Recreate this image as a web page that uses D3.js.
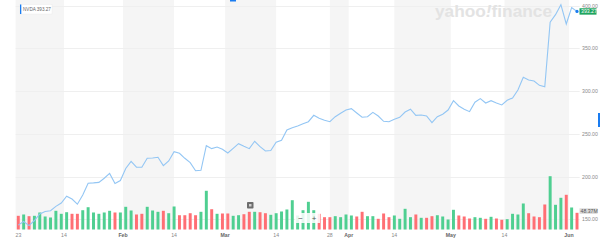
<!DOCTYPE html>
<html>
<head>
<meta charset="utf-8">
<script src="https://cdn.jsdelivr.net/npm/d3@7"></script>
<style>
  body { margin: 0; background: #fff; }
  svg { display: block; font-family: "Liberation Sans", Arial, sans-serif; }
</style>
</head>
<body>
<script>
var width = 600;
var height = 247;

// trading days, Jan 3 - Jun 2 2023
var dates = [
  "2023-01-03","2023-01-04","2023-01-05","2023-01-06","2023-01-09","2023-01-10","2023-01-11","2023-01-12","2023-01-13",
  "2023-01-17","2023-01-18","2023-01-19","2023-01-20","2023-01-23","2023-01-24","2023-01-25","2023-01-26","2023-01-27",
  "2023-01-30","2023-01-31",
  "2023-02-01","2023-02-02","2023-02-03","2023-02-06","2023-02-07","2023-02-08","2023-02-09","2023-02-10","2023-02-13",
  "2023-02-14","2023-02-15","2023-02-16","2023-02-17","2023-02-21","2023-02-22","2023-02-23","2023-02-24","2023-02-27",
  "2023-02-28",
  "2023-03-01","2023-03-02","2023-03-03","2023-03-06","2023-03-07","2023-03-08","2023-03-09","2023-03-10","2023-03-13",
  "2023-03-14","2023-03-15","2023-03-16","2023-03-17","2023-03-20","2023-03-21","2023-03-22","2023-03-23","2023-03-24",
  "2023-03-27","2023-03-28","2023-03-29","2023-03-30","2023-03-31",
  "2023-04-03","2023-04-04","2023-04-05","2023-04-06","2023-04-10","2023-04-11","2023-04-12","2023-04-13","2023-04-14",
  "2023-04-17","2023-04-18","2023-04-19","2023-04-20","2023-04-21","2023-04-24","2023-04-25","2023-04-26","2023-04-27",
  "2023-04-28",
  "2023-05-01","2023-05-02","2023-05-03","2023-05-04","2023-05-05","2023-05-08","2023-05-09","2023-05-10","2023-05-11",
  "2023-05-12","2023-05-15","2023-05-16","2023-05-17","2023-05-18","2023-05-19","2023-05-22","2023-05-23","2023-05-24",
  "2023-05-25","2023-05-26","2023-05-30","2023-05-31",
  "2023-06-01","2023-06-02"
];

var close = [
  143.15,147.49,142.65,148.59,156.28,159.09,160.01,165.11,168.99,
  177.02,173.77,167.65,178.39,192.21,192.6,193.22,198.02,203.65,
  191.94,195.37,
  209.43,217.86,211.0,210.9,221.4,221.8,222.6,212.8,218.3,
  229.1,227.3,221.4,216.3,206.9,207.4,236.2,232.7,234.6,
  231.9,
  227.6,233.1,238.5,235.5,232.7,241.3,235.0,230.0,230.5,
  240.1,242.5,254.5,257.2,259.2,261.9,264.2,271.7,268.2,
  265.9,264.2,270.1,274.1,277.9,
  279.5,274.4,269.4,270.1,275.2,270.9,264.7,264.2,267.1,
  269.4,275.6,278.8,271.7,272.0,270.9,263.1,270.1,272.9,
  277.9,
  288.8,282.6,278.8,276.0,287.0,291.2,286.1,288.8,286.1,
  283.8,289.3,292.0,301.3,316.2,313.1,311.9,306.8,305.2,
  380.6,389.5,401.2,378.6,
  397.7,393.27
];

// volume in millions
var volume = [
  39.7,43.5,38.6,39.7,49.3,37.7,34.8,54.2,45.5,
  50.1,45.5,45.5,55.9,64.6,49.3,45.5,49.3,54.2,
  49.3,49.3,
  65.8,55.1,43.5,45.5,65.8,55.1,51.3,54.2,47.2,
  66.7,41.4,41.4,47.2,41.4,51.3,112.2,58.8,45.5,
  46.4,
  46.4,39.7,41.4,44.3,51.3,51.3,50.1,47.2,42.6,
  47.2,52.2,58.0,84.9,40.6,55.9,80.3,55.9,45.5,
  35.7,35.7,38.6,35.7,43.5,
  40.6,37.7,51.3,38.6,38.6,31.0,46.4,35.7,40.6,
  31.0,60.0,35.7,43.5,33.9,33.9,38.6,41.4,37.7,
  29.0,
  57.1,40.6,37.7,31.9,35.7,33.9,31.0,36.8,31.9,
  28.1,29.9,45.5,43.5,75.4,47.2,37.7,35.7,72.5,
  154.5,71.6,91.9,100.6,
  63.8,48.37
];

var priceTicks = [150, 200, 250, 300, 350, 400];
// calendar dates of the x labels
var tickDates = ["2023-01-03","2023-01-14","2023-02-01","2023-02-14","2023-03-01","2023-03-14",
                 "2023-03-28","2023-04-03","2023-04-14","2023-05-01","2023-05-14","2023-06-01"];
var tickLabels = ["23","14","Feb","14","Mar","14","28","Apr","14","May","14","Jun"];
var monthLabels = ["Feb","Mar","Apr","May","Jun"];

var symbol = "NVDA";
var lastPrice = "393.27";
var lastVolume = "48.37M";

var data = dates.map(function(d, i) {
  return {date: d, close: close[i], volume: volume[i], up: i === 0 ? false : close[i] >= close[i - 1]};
});

var plotLeft = 15.6, plotRight = 579.7, plotTop = 0, plotBottom = 229.5;

var svg = d3.select("body").append("svg")
  .attr("width", width)
  .attr("height", height);

var x = d3.scaleBand()
  .domain(dates)
  .range([plotLeft, plotRight])
  .paddingInner(0.45)
  .paddingOuter(0.225);

var step = x.step();
function cx(d) { return x(d) + x.bandwidth() / 2; }
function edge(d) { return cx(d) - step / 2; }

// month starts and non-trading days sit on the gap before the next session,
// mid-month trading days sit on the session itself
function tickX(t, i) {
  var next = dates.find(function(d) { return d >= t; });
  var isDay = monthLabels.indexOf(tickLabels[i]) < 0 && i > 0;
  return (isDay && next === t) ? cx(next) : edge(next);
}

var y = d3.scaleLinear().domain([150, 400]).range([219.3, 5.7]);
var vy = d3.scaleLinear().domain([0, 160]).range([plotBottom, plotBottom - 55.2]);

// alternating background bands
var edges = tickDates.map(tickX).concat([plotRight]);
var bands = d3.range(tickDates.length).map(function(i) { return {x0: edges[i], x1: edges[i + 1], gray: i % 2 === 0}; });

svg.append("g")
  .selectAll("rect")
  .data(bands.filter(function(b) { return b.gray; }))
  .join("rect")
  .attr("x", function(b) { return b.x0; })
  .attr("y", plotTop)
  .attr("width", function(b) { return b.x1 - b.x0; })
  .attr("height", plotBottom - plotTop)
  .attr("fill", "#f5f5f5");

// horizontal grid
svg.append("g")
  .selectAll("line")
  .data(priceTicks)
  .join("line")
  .attr("x1", plotLeft)
  .attr("x2", plotRight)
  .attr("y1", function(d) { return Math.round(y(d)) + 0.5; })
  .attr("y2", function(d) { return Math.round(y(d)) + 0.5; })
  .attr("stroke", "#efefef")
  .attr("stroke-width", 1);

// watermark
var wm = svg.append("text")
  .attr("x", 435)
  .attr("y", 17)
  .attr("font-size", 17)
  .attr("font-weight", "bold")
  .attr("fill", "#e3e3e3")
  .attr("textLength", 117)
  .attr("lengthAdjust", "spacingAndGlyphs");
wm.append("tspan").text("yahoo");
wm.append("tspan").attr("font-style", "italic").text("!");
wm.append("tspan").text("finance");

// volume bars
svg.append("g")
  .selectAll("rect")
  .data(data)
  .join("rect")
  .attr("x", function(d) { return x(d.date); })
  .attr("y", function(d) { return vy(d.volume); })
  .attr("width", x.bandwidth())
  .attr("height", function(d) { return vy(0) - vy(d.volume); })
  .attr("fill", function(d) { return d.up ? "#4fcf91" : "#ff6f74"; });

// price line
var line = d3.line()
  .x(function(d) { return cx(d.date); })
  .y(function(d) { return y(d.close); });

svg.append("path")
  .datum(data)
  .attr("d", line)
  .attr("fill", "none")
  .attr("stroke", "#93c6f4")
  .attr("stroke-width", 1.1);

var last = data[data.length - 1];
svg.append("circle")
  .attr("cx", cx(last.date))
  .attr("cy", y(last.close))
  .attr("r", 1.6)
  .attr("fill", "#1a7cf0");

// right axis labels
svg.append("g")
  .selectAll("text")
  .data(priceTicks)
  .join("text")
  .attr("x", 582)
  .attr("y", function(d) { return y(d) + 2; })
  .attr("font-size", 5.2)
  .attr("fill", "#8a8a8a")
  .text(function(d) { return d.toFixed(2); });

// last price tag
svg.append("rect")
  .attr("x", 579.5).attr("y", y(last.close) - 3.2)
  .attr("width", 17).attr("height", 6.4)
  .attr("fill", "#1fa55f");
svg.append("text")
  .attr("x", 581).attr("y", y(last.close) + 1.9)
  .attr("font-size", 5.2)
  .attr("fill", "#fff")
  .text(lastPrice);

// last volume tag
svg.append("rect")
  .attr("x", 579.5).attr("y", vy(last.volume) - 4.5)
  .attr("width", 18).attr("height", 5.5)
  .attr("fill", "#d9d9d9");
svg.append("text")
  .attr("x", 580.5).attr("y", vy(last.volume) - 0.2)
  .attr("font-size", 5.2)
  .attr("fill", "#555")
  .text(lastVolume);

// x axis labels
svg.append("g")
  .selectAll("text")
  .data(tickDates)
  .join("text")
  .attr("x", function(d, i) { return tickX(d, i); })
  .attr("y", 236.5)
  .attr("text-anchor", function(d, i) { return i === 0 ? "start" : "middle"; })
  .attr("font-size", 5.2)
  .attr("fill", function(d, i) { return monthLabels.indexOf(tickLabels[i]) >= 0 ? "#666" : "#8a8a8a"; })
  .attr("font-weight", function(d, i) { return monthLabels.indexOf(tickLabels[i]) >= 0 ? "bold" : "normal"; })
  .text(function(d, i) { return tickLabels[i]; });

// legend chip top-left
svg.append("rect")
  .attr("x", 20).attr("y", 4.5).attr("width", 32).attr("height", 9.5)
  .attr("fill", "#fff")
  .attr("stroke", "#ececec")
  .attr("stroke-width", 0.5);
svg.append("rect")
  .attr("x", 20).attr("y", 4.5).attr("width", 1.3).attr("height", 9.5)
  .attr("fill", "#1a7cf0");
svg.append("text")
  .attr("x", 23).attr("y", 11)
  .attr("font-size", 4.6)
  .attr("fill", "#666")
  .text(symbol + " " + lastPrice);

// event marker
svg.append("rect")
  .attr("x", 247).attr("y", 202).attr("width", 6.5).attr("height", 6.5)
  .attr("rx", 0.8)
  .attr("fill", "#6d6d6d");
svg.append("rect")
  .attr("x", 249).attr("y", 204).attr("width", 2.5).attr("height", 2.5)
  .attr("fill", "#d0d0d0");

// zoom buttons
svg.append("rect")
  .attr("x", 295).attr("y", 213).attr("width", 25).attr("height", 10)
  .attr("fill", "#fff").attr("fill-opacity", 0.85);
svg.append("text")
  .attr("x", 300.5).attr("y", 221)
  .attr("text-anchor", "middle")
  .attr("font-size", 8).attr("fill", "#555")
  .text("\u2212");
svg.append("text")
  .attr("x", 314).attr("y", 221)
  .attr("text-anchor", "middle")
  .attr("font-size", 8).attr("fill", "#555")
  .text("+");

// top range marker and right edge handle
svg.append("rect").attr("x", 230).attr("y", 0).attr("width", 6).attr("height", 1.5).attr("fill", "#1a7cf0");
svg.append("rect").attr("x", 598).attr("y", 113).attr("width", 2).attr("height", 14).attr("fill", "#1a7cf0");
</script>
</body>
</html>
